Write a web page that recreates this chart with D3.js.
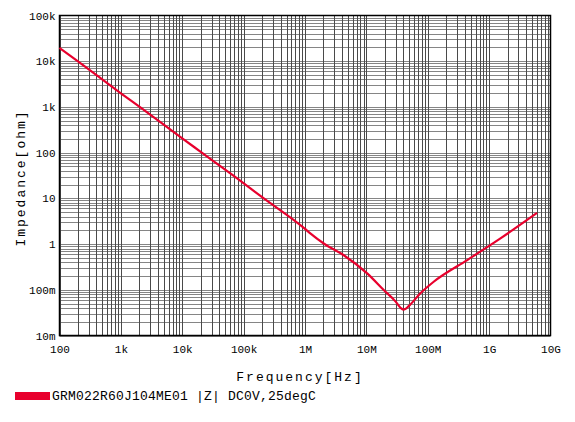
<!DOCTYPE html>
<html><head><meta charset="utf-8">
<script src="https://cdn.jsdelivr.net/npm/d3@7"></script>
<style>body{margin:0;background:#fff}svg{display:block}text{font-family:"Liberation Mono","DejaVu Sans Mono",monospace;fill:#000}</style>
</head><body><svg id="c" width="575" height="422"></svg>
<script>
const freqHz = [100, 200, 1e3, 2e3, 1e4, 2e4, 7e4, 2e5, 1e6, 1.22e6, 2.02e6, 4.28e6, 1.03e7, 1.92e7, 3.0e7, 3.6e7, 4.0e7, 4.3e7, 4.9e7, 7.6e7, 1.25e8, 4.4e8, 1.53e9, 6.05e9];
const impedanceOhm = [19500, 9900, 1990, 1010, 205, 104, 30.5, 10.6, 2.15, 1.71, 1.03, 0.57, 0.229, 0.099, 0.055, 0.0405, 0.037, 0.038, 0.044, 0.084, 0.150, 0.447, 1.33, 4.81];
const xTickVals = [1e2, 1e3, 1e4, 1e5, 1e6, 1e7, 1e8, 1e9, 1e10];
const xTickLabels = ["100", "1k", "10k", "100k", "1M", "10M", "100M", "1G", "10G"];
const yTickVals = [1e-2, 1e-1, 1, 10, 100, 1e3, 1e4, 1e5];
const yTickLabels = ["10m", "100m", "1", "10", "100", "1k", "10k", "100k"];
const seriesName = "GRM022R60J104ME01 |Z| DC0V,25degC";

const svg = d3.select("#c");
const L = 59.5, R = 550.5, T = 15.5, B = 335.5;
const x = d3.scaleLog().domain([1e2, 1e10]).range([L, R]);
const y = d3.scaleLog().domain([1e-2, 1e5]).range([B, T]);

const xMinor = [], yMinor = [];
for (let e = 2; e < 10; e++) for (let m = 1; m < 10; m++) xMinor.push(m * Math.pow(10, e));
for (let e = -2; e < 5; e++) for (let m = 1; m < 10; m++) yMinor.push(m * Math.pow(10, e));

const g = svg.append("g");
g.selectAll("line.h").data(yMinor).join("line")
  .attr("x1", L).attr("x2", R)
  .attr("y1", d => Math.round(y(d)) + 0.5).attr("y2", d => Math.round(y(d)) + 0.5)
  .attr("stroke", "#858585").attr("stroke-width", 1);
g.selectAll("line.v").data(xMinor).join("line")
  .attr("y1", T).attr("y2", B)
  .attr("x1", d => Math.round(x(d)) + 0.5).attr("x2", d => Math.round(x(d)) + 0.5)
  .attr("stroke", "#4a4a4a").attr("stroke-width", 1);

g.append("rect").attr("x", L).attr("y", T).attr("width", R - L).attr("height", B - T)
  .attr("fill", "none").attr("stroke", "#000").attr("stroke-width", 1.5);

const xAxis = d3.axisBottom(x).tickValues(xTickVals).tickSize(0).tickPadding(10)
  .tickFormat((d, i) => xTickLabels[i]);
const xa = svg.append("g").attr("transform", `translate(0,${B})`).call(xAxis);
xa.select(".domain").remove();
xa.selectAll("text").attr("font-size", 11).attr("font-family", "Liberation Mono");

const yAxis = d3.axisLeft(y).tickValues(yTickVals).tickSize(0).tickPadding(4)
  .tickFormat((d, i) => yTickLabels[i]);
const ya = svg.append("g").attr("transform", `translate(${L},0)`).call(yAxis);
ya.select(".domain").remove();
ya.selectAll("text").attr("font-size", 11).attr("font-family", "Liberation Mono");

const pts = freqHz.map((f, i) => [f, impedanceOhm[i]]);
svg.append("path").datum(pts)
  .attr("d", d3.line().x(d => x(d[0])).y(d => y(d[1])).curve(d3.curveMonotoneX))
  .attr("fill", "none").attr("stroke", "#e8002d").attr("stroke-width", 2.2);

svg.append("text").attr("x", 300).attr("y", 381).attr("text-anchor", "middle")
  .attr("font-size", 13).attr("letter-spacing", 2).text("Frequency[Hz]");
svg.append("text").attr("transform", "translate(25,178) rotate(-90)").attr("text-anchor", "middle")
  .attr("font-size", 13).attr("letter-spacing", 2).text("Impedance[ohm]");

svg.append("rect").attr("x", 15).attr("y", 392).attr("width", 35).attr("height", 8).attr("fill", "#e8002d");
svg.append("text").attr("x", 52).attr("y", 400).attr("font-size", 13).attr("letter-spacing", 0.2).text(seriesName);
</script></body></html>
